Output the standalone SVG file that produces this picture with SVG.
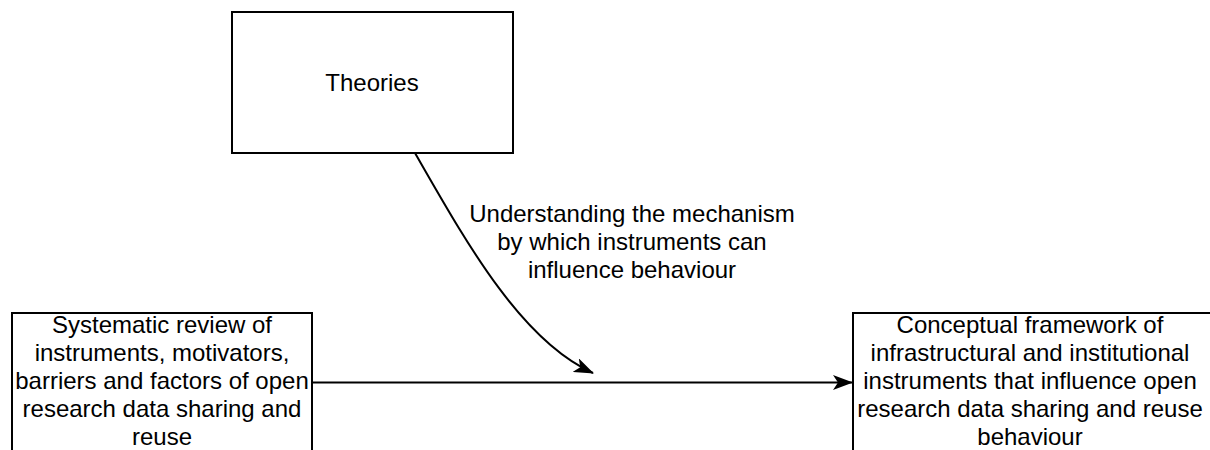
<svg xmlns="http://www.w3.org/2000/svg" width="1210" height="450" viewBox="0 0 1210 450">
  <style>
    .box { fill: #ffffff; stroke: #000000; stroke-width: 2; }
    .lbl { font-family: "Liberation Sans", Arial, Helvetica, sans-serif; font-size: 24px; fill: #000000; text-anchor: middle; }
    .edge { fill: none; stroke: #000000; stroke-width: 2; }
  </style>
  <defs>
    <marker id="arrow" markerUnits="userSpaceOnUse" markerWidth="20" markerHeight="15" viewBox="0 0 20 15" refX="19" refY="7.5" orient="auto">
      <path d="M0,0 L20,7.5 L0,15 L5,7.5 Z" fill="#000000"/>
    </marker>
  </defs>

  <g id="theories">
    <rect class="box" x="232" y="12" width="281" height="141"/>
    <text class="lbl" x="372" y="91">Theories</text>
  </g>

  <g id="systematic-review">
    <rect class="box" x="12" y="313" width="300" height="160"/>
    <text class="lbl" x="162" y="333">Systematic review of</text>
    <text class="lbl" x="162" y="361">instruments, motivators,</text>
    <text class="lbl" x="162" y="389">barriers and factors of open</text>
    <text class="lbl" x="162" y="417">research data sharing and</text>
    <text class="lbl" x="162" y="445">reuse</text>
  </g>

  <g id="conceptual-framework">
    <rect class="box" x="853" y="313" width="370" height="160"/>
    <text class="lbl" x="1030" y="333">Conceptual framework of</text>
    <text class="lbl" x="1030" y="361">infrastructural and institutional</text>
    <text class="lbl" x="1030" y="389">instruments that influence open</text>
    <text class="lbl" x="1030" y="417">research data sharing and reuse</text>
    <text class="lbl" x="1030" y="445">behaviour</text>
  </g>

  <g id="connectors">
    <path class="edge" d="M312,382.5 L852,382.5" marker-end="url(#arrow)"/>
    <path class="edge" d="M415,153 C465,240 520,340 593,373" marker-end="url(#arrow)"/>
    <g id="edge-label">
      <text class="lbl" x="632" y="222">Understanding the mechanism</text>
      <text class="lbl" x="632" y="250">by which instruments can</text>
      <text class="lbl" x="632" y="278">influence behaviour</text>
    </g>
  </g>
</svg>
